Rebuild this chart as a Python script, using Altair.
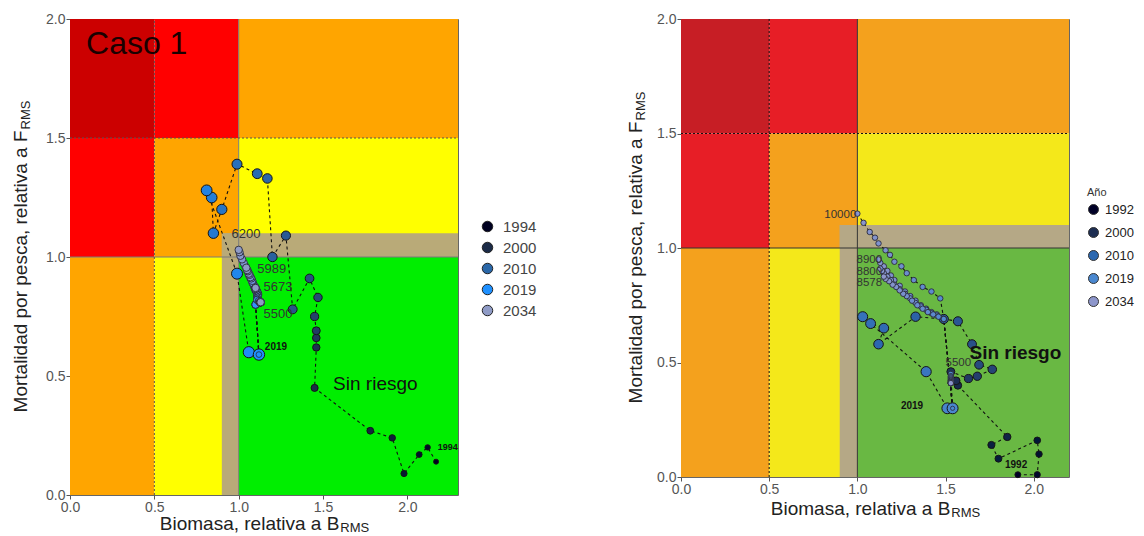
import altair as alt
import pandas as pd

FONT = "Liberation Sans"

# ======================= LEFT PANEL (Caso 1) =======================
L_hist_year = [1994, 1995, 1996, 1997, 1998, 1999, 2000, 2001, 2002, 2003, 2004, 2005, 2006,
               2007, 2008, 2009, 2010, 2011, 2012, 2013, 2014, 2015, 2016, 2017, 2018, 2019]
L_hist_B = [2.17, 2.12, 2.07, 1.98, 1.91, 1.78, 1.45, 1.46, 1.46, 1.46, 1.45, 1.47, 1.42,
            1.32, 1.28, 1.20, 1.17, 1.11, 0.99, 0.90, 0.85, 0.84, 0.81, 0.99, 1.06, 1.12]
L_hist_F = [0.14, 0.20, 0.17, 0.09, 0.24, 0.27, 0.45, 0.62, 0.66, 0.69, 0.75, 0.83, 0.91,
            0.78, 1.09, 1.00, 1.33, 1.35, 1.39, 1.20, 1.10, 1.25, 1.28, 0.93, 0.60, 0.59]

L_proj_year = [2020, 2021, 2022, 2023, 2024, 2025, 2026, 2027, 2028, 2029, 2030, 2031, 2032, 2033, 2034]
L_p6200_B = [1.10, 1.11, 1.11, 1.10, 1.09, 1.08, 1.07, 1.06, 1.05, 1.04, 1.03, 1.02, 1.01, 1.005, 1.00]
L_p6200_F = [0.80, 0.83, 0.85, 0.865, 0.88, 0.895, 0.91, 0.925, 0.945, 0.96, 0.975, 0.99, 1.005, 1.02, 1.03]
L_p5989_B = [1.10, 1.11, 1.11, 1.10, 1.095, 1.09, 1.085, 1.08, 1.075, 1.07, 1.065, 1.06, 1.055, 1.05, 1.045]
L_p5989_F = [0.80, 0.83, 0.845, 0.86, 0.87, 0.88, 0.89, 0.90, 0.91, 0.915, 0.925, 0.93, 0.94, 0.945, 0.955]
L_p5673_B = [1.10, 1.11, 1.115, 1.115, 1.11, 1.11, 1.105, 1.105, 1.10, 1.10, 1.10, 1.10, 1.10, 1.10, 1.10]
L_p5673_F = [0.80, 0.83, 0.84, 0.845, 0.85, 0.855, 0.86, 0.86, 0.865, 0.865, 0.87, 0.87, 0.87, 0.87, 0.87]
L_p5500_B = [1.10, 1.11, 1.12, 1.125, 1.13, 1.13, 1.13, 1.13, 1.13, 1.13, 1.13, 1.13, 1.13, 1.13, 1.13]
L_p5500_F = [0.80, 0.82, 0.815, 0.81, 0.81, 0.81, 0.81, 0.81, 0.81, 0.81, 0.81, 0.81, 0.81, 0.81, 0.81]

L_catch_labels = ["6200", "5989", "5673", "5500"]
L_catch_lab_B = [0.957, 1.11, 1.147, 1.147]
L_catch_lab_F = [1.097, 0.948, 0.874, 0.76]

L_zone_name = ["r1", "r2", "o1", "r3", "o2", "y1", "o3", "y2", "g", "tv", "th"]
L_zone_x0 = [0.0, 0.5, 1.0, 0.0, 0.5, 1.0, 0.0, 0.5, 1.0, 0.9, 0.9]
L_zone_x1 = [0.5, 1.0, 2.3, 0.5, 1.0, 2.3, 0.5, 1.0, 2.3, 1.0, 2.3]
L_zone_y0 = [1.5, 1.5, 1.5, 1.0, 1.0, 1.0, 0.0, 0.0, 0.0, 0.0, 1.0]
L_zone_y1 = [2.0, 2.0, 2.0, 1.5, 1.5, 1.5, 1.0, 1.0, 1.0, 1.1, 1.1]

L_legend_years = [1994, 2000, 2010, 2019, 2034]

# ======================= RIGHT PANEL =======================
R_hist_year = [1992, 1993, 1994, 1995, 1996, 1997, 1998, 1999, 2000, 2001, 2002, 2003,
               2004, 2005, 2006, 2007, 2008, 2009, 2010, 2011, 2012, 2013, 2014, 2018, 2019]
R_hist_B = [1.91, 2.02, 2.03, 2.02, 1.80, 1.76, 1.85, 1.57, 1.56, 1.53, 1.63, 1.68,
            1.765, 1.69, 1.65, 1.57, 1.49, 1.33, 1.12, 1.15, 1.075, 1.03, 1.39, 1.51, 1.54]
R_hist_F = [0.01, 0.01, 0.10, 0.16, 0.08, 0.14, 0.175, 0.40, 0.42, 0.46, 0.43, 0.44,
            0.47, 0.49, 0.58, 0.68, 0.69, 0.70, 0.58, 0.65, 0.67, 0.70, 0.46, 0.30, 0.30]

R_proj_year = [2020, 2021, 2022, 2023, 2024, 2025, 2026, 2027, 2028, 2029, 2030, 2031, 2032, 2033, 2034]
R_p10000_B = [1.49, 1.47, 1.42, 1.37, 1.32, 1.28, 1.25, 1.21, 1.185, 1.16, 1.12, 1.10, 1.07, 1.035, 1.00]
R_p10000_F = [0.69, 0.78, 0.81, 0.83, 0.86, 0.89, 0.92, 0.94, 0.97, 0.99, 1.02, 1.045, 1.07, 1.11, 1.15]
R_p8900_B = [1.49, 1.45, 1.42, 1.39, 1.36, 1.33, 1.30, 1.27, 1.24, 1.21, 1.19, 1.17, 1.15, 1.13, 1.12]
R_p8900_F = [0.69, 0.71, 0.72, 0.735, 0.75, 0.77, 0.79, 0.81, 0.835, 0.86, 0.88, 0.90, 0.92, 0.935, 0.95]
R_p8800_B = [1.49, 1.45, 1.42, 1.39, 1.36, 1.33, 1.30, 1.27, 1.24, 1.21, 1.19, 1.17, 1.15, 1.14, 1.13]
R_p8800_F = [0.69, 0.705, 0.715, 0.73, 0.745, 0.76, 0.78, 0.80, 0.82, 0.84, 0.86, 0.875, 0.89, 0.90, 0.91]
R_p8578_B = [1.49, 1.46, 1.43, 1.40, 1.37, 1.34, 1.31, 1.28, 1.26, 1.24, 1.22, 1.20, 1.18, 1.16, 1.15]
R_p8578_F = [0.69, 0.70, 0.71, 0.72, 0.735, 0.75, 0.77, 0.79, 0.80, 0.815, 0.83, 0.84, 0.855, 0.865, 0.875]
R_p5500_B = [1.53, 1.53, 1.53, 1.53, 1.53, 1.53, 1.53, 1.53, 1.53, 1.53, 1.53, 1.53, 1.53, 1.53, 1.53]
R_p5500_F = [0.45, 0.44, 0.435, 0.43, 0.425, 0.42, 0.42, 0.415, 0.415, 0.41, 0.41, 0.41, 0.41, 0.41, 0.41]

R_catch_labels = ["10000", "8900", "8800", "8578", "5500"]
R_catch_lab_B = [0.994, 0.995, 0.995, 0.995, 1.50]
R_catch_lab_F = [1.144, 0.946, 0.897, 0.849, 0.499]
R_catch_align = ["right", "left", "left", "left", "left"]

R_zone_name = L_zone_name
R_zone_x0 = [0.0, 0.5, 1.0, 0.0, 0.5, 1.0, 0.0, 0.5, 1.0, 0.9, 0.9]
R_zone_x1 = [0.5, 1.0, 2.2, 0.5, 1.0, 2.2, 0.5, 1.0, 2.2, 1.0, 2.2]
R_zone_y0 = L_zone_y0
R_zone_y1 = L_zone_y1

R_legend_years = [1992, 2000, 2010, 2019, 2034]

TICKS = [0, 0.5, 1.0, 1.5, 2.0]

# ---------------- styles ----------------
L_zone_colors = ["#CC0000", "#FF0000", "#FFA500", "#FF0000", "#FFA500", "#FFFF00",
                 "#FFA500", "#FFFF00", "#00EE00", "#B9AA78", "#B9AA78"]
R_zone_colors = ["#C71E25", "#E71E26", "#F4A11D", "#E71E26", "#F4A11D", "#F4E81A",
                 "#F4A11D", "#F4E81A", "#69B843", "#B5A886", "#B5A886"]
L_year_colors = ["#000000", "#1B2B47", "#2A67A8", "#1E90FF", "#8F9BC6"]
R_year_colors = ["#000000", "#1D2E52", "#2C68B0", "#4A88D0", "#8D96CB"]


def axis():
    return alt.Axis(values=TICKS, format=".1f", title=None, grid=False, domain=False,
                    labelFont=FONT, labelFontSize=14, labelColor="#555555", labelFlush=False,
                    tickColor="#555555", tickSize=4, labelPadding=1)


def X(field, dom):
    return alt.X(field, type="quantitative", scale=alt.Scale(domain=dom, nice=False, zero=False), axis=axis())


def Y(field):
    return alt.Y(field, type="quantitative", scale=alt.Scale(domain=[0, 2], nice=False, zero=False), axis=axis())


def panel(xmax, zone_names, x0, x1, y0, y1, zone_colors,
          hist_year, hist_B, hist_F, proj, proj_year,
          year_dom, year_colors, size_rng, proj_size,
          lab_txt, lab_B, lab_F, lab_align, lab_size,
          extra_text, legend_cfg, solid_col, dot_col, w, h,
          ytitle_x, xtitle_dy, sin_pos, sin_weight):
    dom = [0, xmax]
    zones = pd.DataFrame({"zone": zone_names, "x0": x0, "x1": x1, "y0": y0, "y1": y1})
    rects = alt.Chart(zones).mark_rect().encode(
        x=X("x0", dom), x2="x1", y=Y("y0"), y2="y1",
        fill=alt.Fill("zone:N", scale=alt.Scale(domain=zone_names, range=zone_colors), legend=None))

    rules_solid = alt.Chart(pd.DataFrame({"a": [1.0, 0.0], "b": [1.0, xmax], "c": [0.0, 1.0], "d": [2.0, 1.0]})).mark_rule(
        color=solid_col, strokeWidth=1).encode(x=X("a", dom), x2="b", y=Y("c"), y2="d")
    rules_dot = alt.Chart(pd.DataFrame({"a": [0.5, 0.0], "b": [0.5, xmax], "c": [0.0, 1.5], "d": [2.0, 1.5]})).mark_rule(
        color=dot_col, strokeWidth=1, strokeDash=[2, 2]).encode(x=X("a", dom), x2="b", y=Y("c"), y2="d")

    hist = pd.DataFrame({"year": hist_year, "B": hist_B, "F": hist_F})
    rows = []
    for name, (pb, pf) in proj.items():
        rows.append({"sc": name, "year": hist_year[-1], "B": hist_B[-1], "F": hist_F[-1]})
        for yr, b, f in zip(proj_year, pb, pf):
            rows.append({"sc": name, "year": yr, "B": b, "F": f})
    pdf = pd.DataFrame(rows)

    color = alt.Color("year:Q", scale=alt.Scale(domain=year_dom, range=year_colors), legend=legend_cfg)

    hist_line = alt.Chart(hist).mark_line(color="#111111", strokeWidth=1.1, strokeDash=[3, 3]).encode(
        x=X("B", dom), y=Y("F"), order="year:Q")
    proj_line = alt.Chart(pdf).mark_line(color="#111111", strokeWidth=1.1, strokeDash=[3, 3]).encode(
        x=X("B", dom), y=Y("F"), detail="sc:N", order="year:Q")
    hist_pts = alt.Chart(hist).mark_circle(stroke="#151515", strokeWidth=1, opacity=1).encode(
        x=X("B", dom), y=Y("F"), color=color,
        size=alt.Size("year:Q", scale=alt.Scale(domain=[hist_year[0], hist_year[-1]], range=size_rng), legend=None))
    proj_pts = alt.Chart(pdf[pdf["year"] > hist_year[-1]]).mark_circle(
        stroke="#2a2a3a", strokeWidth=0.9, opacity=1, size=proj_size).encode(
        x=X("B", dom), y=Y("F"), color=color)
    # inner dot on the last observed year (start of projections)
    start_pt = alt.Chart(hist.tail(1)).mark_circle(
        stroke="#2a2a3a", strokeWidth=0.8, opacity=1, size=proj_size * 0.6).encode(
        x=X("B", dom), y=Y("F"), color=color)

    layers = [rects, rules_solid, rules_dot, hist_line, proj_line, hist_pts, proj_pts, start_pt]
    for al in ["left", "right"]:
        sub = pd.DataFrame({"t": lab_txt, "B": lab_B, "F": lab_F, "al": lab_align})
        sub = sub[sub["al"] == al]
        if len(sub):
            layers.append(alt.Chart(sub).mark_text(
                font=FONT, fontSize=lab_size, color="#333333", baseline="middle", align=al).encode(
                x=X("B", dom), y=Y("F"), text="t:N"))

    for (txt, b, f, size, weight, al, col) in extra_text:
        layers.append(alt.Chart(pd.DataFrame({"t": [txt], "B": [b], "F": [f]})).mark_text(
            font=FONT, fontSize=size, fontWeight=weight, align=al, baseline="middle", color=col).encode(
            x=X("B", dom), y=Y("F"), text="t:N"))

    # Sin riesgo
    layers.append(alt.Chart(pd.DataFrame({"t": ["Sin riesgo"], "B": [sin_pos[0]], "F": [sin_pos[1]]})).mark_text(
        font=FONT, fontSize=19, fontWeight=sin_weight, color="#111111", baseline="middle", align="center").encode(
        x=X("B", dom), y=Y("F"), text="t:N"))

    # Axis titles with subscripts
    xt_main = 0.019 * 9448
    xt_sub = 0.013 * 2222
    px = w / 2 - (xt_main + xt_sub) / 2 + xt_main
    layers.append(alt.Chart(pd.DataFrame({"t": ["Biomasa, relativa a B"]})).mark_text(
        font=FONT, fontSize=19, color="#222222", align="right", baseline="middle").encode(
        x=alt.value(px), y=alt.value(h + xtitle_dy), text="t:N"))
    layers.append(alt.Chart(pd.DataFrame({"t": ["RMS"]})).mark_text(
        font=FONT, fontSize=13, color="#222222", align="left", baseline="middle", dy=4, dx=1).encode(
        x=alt.value(px), y=alt.value(h + xtitle_dy), text="t:N"))

    yt_main = 0.019 * 14839
    yt_sub = 0.013 * 2222
    py = h / 2 - (yt_main + yt_sub) / 2 + yt_sub
    layers.append(alt.Chart(pd.DataFrame({"t": ["Mortalidad por pesca, relativa a F"]})).mark_text(
        font=FONT, fontSize=19, color="#222222", align="right", baseline="middle", angle=270).encode(
        x=alt.value(ytitle_x), y=alt.value(py), text="t:N"))
    layers.append(alt.Chart(pd.DataFrame({"t": ["RMS"]})).mark_text(
        font=FONT, fontSize=13, color="#222222", align="left", baseline="middle", angle=270, dy=5, dx=1).encode(
        x=alt.value(ytitle_x), y=alt.value(py), text="t:N"))

    return alt.layer(*layers).properties(width=w, height=h)


L_legend = alt.Legend(type="symbol", values=L_legend_years, format="d", title=None,
                      orient="none", legendX=410, legendY=200,
                      symbolType="circle", symbolSize=110, symbolStrokeColor="#222222",
                      symbolStrokeWidth=1, symbolOpacity=1, labelFont=FONT, labelFontSize=15,
                      labelColor="#444444", rowPadding=5, labelOffset=8)
R_legend = alt.Legend(type="symbol", values=R_legend_years, format="d", title="Año",
                      titleFont=FONT, titleFontSize=11, titleFontWeight="normal", titleColor="#333333",
                      orient="none", legendX=406, legendY=168,
                      symbolType="circle", symbolSize=100, symbolStrokeColor="#333333",
                      symbolStrokeWidth=1, symbolOpacity=1, labelFont=FONT, labelFontSize=13,
                      labelColor="#222222", rowPadding=8, labelOffset=5)

left = panel(
    2.3, L_zone_name, L_zone_x0, L_zone_x1, L_zone_y0, L_zone_y1, L_zone_colors,
    L_hist_year, L_hist_B, L_hist_F,
    {"6200": (L_p6200_B, L_p6200_F), "5989": (L_p5989_B, L_p5989_F),
     "5673": (L_p5673_B, L_p5673_F), "5500": (L_p5500_B, L_p5500_F)},
    L_proj_year, L_legend_years, L_year_colors, [25, 130], 55,
    L_catch_labels, L_catch_lab_B, L_catch_lab_F, ["left"] * 4, 13,
    [("Caso 1", 0.095, 1.895, 32, "normal", "left", "#1A0000"),
     ("2019", 1.155, 0.62, 10, "bold", "left", "#111111"),
     ("1994", 2.18, 0.20, 9, "bold", "left", "#111111")],
    L_legend, "#7a7a7a", "#555555", 388, 476, -49, 29, (1.81, 0.466), "normal")

right = panel(
    2.2, R_zone_name, R_zone_x0, R_zone_x1, R_zone_y0, R_zone_y1, R_zone_colors,
    R_hist_year, R_hist_B, R_hist_F,
    {"10000": (R_p10000_B, R_p10000_F), "8900": (R_p8900_B, R_p8900_F),
     "8800": (R_p8800_B, R_p8800_F), "8578": (R_p8578_B, R_p8578_F), "5500": (R_p5500_B, R_p5500_F)},
    R_proj_year, R_legend_years, R_year_colors, [35, 120], 30,
    R_catch_labels, R_catch_lab_B, R_catch_lab_F, R_catch_align, 11.5,
    [("2019", 1.31, 0.31, 10, "bold", "center", "#111111"),
     ("1992", 1.90, 0.051, 10, "bold", "center", "#111111")],
    R_legend, "#333333", "#111111", 388, 458, -45, 32, (1.896, 0.543), "bold")

chart = alt.hconcat(left, right, spacing=223, bounds="flush").resolve_scale(
    color="independent", size="independent", fill="independent", x="independent", y="independent"
).configure_view(stroke="#666666", strokeWidth=1).properties(
    padding={"left": 3, "top": 3, "right": 0, "bottom": 0})

chart.save("out.html", embed_options={"renderer": "svg", "actions": False})
